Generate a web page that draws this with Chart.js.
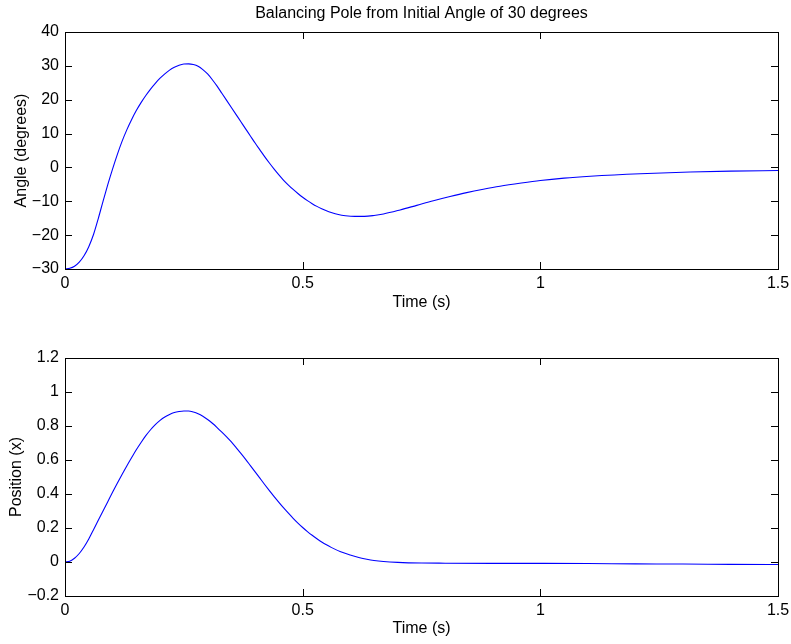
<!DOCTYPE html>
<html>
<head>
<meta charset="utf-8">
<script src="https://cdn.jsdelivr.net/npm/chart.js@4/dist/chart.umd.min.js"></script>
<style>
  html, body { margin: 0; padding: 0; background: #fff; }
  .wrap { position: absolute; left: 0; width: 791px; height: 322px; }
  canvas { display: block; }
</style>
</head>
<body>
<div class="wrap" style="top:0"><canvas id="c1" width="791" height="322"></canvas></div>
<div class="wrap" style="top:322px"><canvas id="c2" width="791" height="322"></canvas></div>
<script>
// ---- data ----
const chartTitle = 'Balancing Pole from Initial Angle of 30 degrees';
const timeTicks = [0, 0.5, 1, 1.5];

const angleTime = [0,0.01,0.02,0.03,0.04,0.05,0.06,0.07,0.08,0.09,0.1,0.11,0.12,0.13,0.14,0.15,0.16,0.17,0.18,0.19,0.2,0.21,0.22,0.23,0.24,0.25,0.26,
  0.27,0.28,0.29,0.3,0.31,0.32,0.33,0.34,0.35,0.36,0.37,0.38,0.39,0.4,0.41,0.42,0.43,0.44,0.45,0.46,0.47,0.48,0.49,0.5,0.51,0.52,0.53,0.54,0.55,0.56,0.575,0.59,0.61,0.63,0.65,0.67,
  0.705,0.74,0.775,0.81,0.845,0.88,0.915,0.96,1.0,1.05,1.105,1.21,1.315,1.4,1.5];
const angleDeg = [-30,-29.8,-29.2,-28,-26.1,-23.4,-19.8,-15.1,-10,-5.1,-0.5,3.8,7.7,11.1,14.1,16.8,19.15,21.25,23.15,24.85,26.35,27.65,28.75,29.6,30.2,30.55,30.6,
  30.4,29.9,28.9,27.6,25.9,24,21.9,19.8,17.7,15.6,13.5,11.4,9.3,7.2,5.2,3.2,1.3,-0.5,-2.2,-3.8,-5.2,-6.5,-7.7,-8.8,-9.8,-10.7,-11.5,-12.2,-12.8,-13.3,-13.9,-14.25,-14.45,-14.45,-14.2,-13.75,
  -12.55,-11.2,-9.85,-8.6,-7.45,-6.45,-5.55,-4.6,-3.85,-3.15,-2.6,-1.85,-1.35,-1.1,-0.9];
const angleTicks = [-30,-20,-10,0,10,20,30,40];

const posTime = [0,0.01,0.02,0.03,0.04,0.05,0.06,0.07,0.08,0.09,0.1,0.11,0.12,0.13,0.14,0.15,0.16,0.17,0.18,0.19,0.2,0.21,0.22,0.23,0.24,0.25,0.26,
  0.27,0.28,0.29,0.3,0.31,0.32,0.33,0.34,0.35,0.36,0.37,0.38,0.39,0.4,0.41,0.42,0.43,0.44,0.45,0.46,0.47,0.48,0.49,0.5,0.51,0.52,0.53,0.54,0.55,0.56,0.58,0.6,0.62,0.635,0.65,0.67,
  0.7,0.75,0.8,0.9,1.0,1.1,1.2,1.3,1.4,1.5];
const posX = [0,0.005,0.022,0.05,0.088,0.135,0.19,0.245,0.3,0.355,0.41,0.463,0.515,0.565,0.613,0.66,0.703,0.743,0.778,0.808,0.833,0.853,0.868,0.879,0.885,0.888,0.888,
  0.882,0.872,0.857,0.838,0.816,0.791,0.764,0.736,0.706,0.673,0.639,0.604,0.567,0.53,0.493,0.456,0.42,0.385,0.351,0.318,0.287,0.257,0.229,0.203,0.179,0.157,0.137,0.118,0.101,0.086,0.06,0.041,0.025,0.016,0.009,0.003,
  -0.002,-0.006,-0.007,-0.008,-0.008,-0.009,-0.011,-0.012,-0.014,-0.015];
const posTicks = [-0.2,0,0.2,0.4,0.6,0.8,1,1.2];

// ---- styling ----
const FONT = { family: '"Liberation Sans", Arial, Helvetica, sans-serif', size: 16 };
Chart.defaults.font = FONT;
Chart.defaults.color = '#000';

function fmt(v) {
  const r = Math.round(v * 10) / 10;
  const s = String(Math.abs(r));
  return r < 0 ? '\u2212' + s : s;
}

const boxTicks = {
  id: 'boxTicks',
  afterDraw(chart) {
    const { ctx, chartArea: a, scales: { x, y } } = chart;
    const L = 7;
    ctx.save();
    ctx.strokeStyle = '#000';
    ctx.lineWidth = 1;
    ctx.beginPath();
    x.ticks.forEach(t => {
      const p = Math.round(x.getPixelForValue(t.value)) + 0.5;
      ctx.moveTo(p, a.bottom); ctx.lineTo(p, a.bottom - L);
      ctx.moveTo(p, a.top); ctx.lineTo(p, a.top + L);
    });
    y.ticks.forEach(t => {
      const p = Math.round(y.getPixelForValue(t.value)) + 0.5;
      ctx.moveTo(a.left, p); ctx.lineTo(a.left + L, p);
      ctx.moveTo(a.right, p); ctx.lineTo(a.right - L, p);
    });
    ctx.stroke();
    ctx.strokeRect(Math.round(a.left) + 0.5, Math.round(a.top) + 0.5,
                   Math.round(a.right - a.left), Math.round(a.bottom - a.top));
    ctx.restore();
  }
};

function makeChart(id, xs, ys, yTicks, yLabel, opts) {
  const pts = xs.map((t, i) => ({ x: t, y: ys[i] }));
  const scales = {
    x: {
      type: 'linear', min: 0, max: 1.5, position: 'bottom',
      grid: { display: false, drawTicks: false },
      border: { display: false },
      afterBuildTicks: s => { s.ticks = timeTicks.map(v => ({ value: v })); },
      ticks: { padding: 5.2, callback: fmt, maxRotation: 0, autoSkip: false },
      title: { display: true, text: 'Time (s)', color: '#000', padding: { top: 0, bottom: opts.xTitlePad } },
      afterFit: s => { s.height = opts.xHeight; s.paddingLeft = 0; s.paddingRight = 0; }
    },
    y: {
      type: 'linear', min: yTicks[0], max: yTicks[yTicks.length - 1],
      grid: { display: false, drawTicks: false },
      border: { display: false },
      afterBuildTicks: s => { s.ticks = yTicks.map(v => ({ value: v })); },
      ticks: { padding: 6, callback: fmt, autoSkip: false },
      title: { display: true, text: yLabel, color: '#000', padding: { top: opts.yTitlePad, bottom: 0 } },
      afterFit: s => { s.width = 65; s.paddingTop = 0; s.paddingBottom = 0; }
    }
  };
  if (opts.title) {
    // title centred over the axes, as in the reference
    scales.xTitle = {
      type: 'linear', min: 0, max: 1.5, position: 'top',
      grid: { display: false, drawTicks: false },
      border: { display: false },
      ticks: { display: false },
      afterBuildTicks: s => { s.ticks = []; },
      title: { display: true, text: opts.title, color: '#000', padding: { top: 4.1, bottom: 0 } },
      afterFit: s => { s.height = 32; s.paddingLeft = 0; s.paddingRight = 0; }
    };
  }
  return new Chart(document.getElementById(id), {
    type: 'line',
    data: { datasets: [{
      data: pts,
      xAxisID: 'x', yAxisID: 'y',
      borderColor: '#0000ff',
      borderWidth: 1.1,
      pointRadius: 0,
      fill: false,
      cubicInterpolationMode: 'monotone'
    }]},
    options: {
      responsive: false,
      animation: false,
      events: [],
      layout: { padding: { left: 0, right: 13, top: opts.padTop, bottom: 0 } },
      plugins: {
        legend: { display: false },
        tooltip: { enabled: false },
        title: { display: false }
      },
      scales
    },
    plugins: [boxTicks]
  });
}

makeChart('c1', angleTime, angleDeg, angleTicks, 'Angle (degrees)',
  { title: chartTitle, padTop: 0, xHeight: 53, xTitlePad: 9.4, yTitlePad: 11.9 });
makeChart('c2', posTime, posX, posTicks, 'Position (x)',
  { title: null, padTop: 36, xHeight: 48, xTitlePad: 5.4, yTitlePad: 7.1 });
</script>
</body>
</html>
